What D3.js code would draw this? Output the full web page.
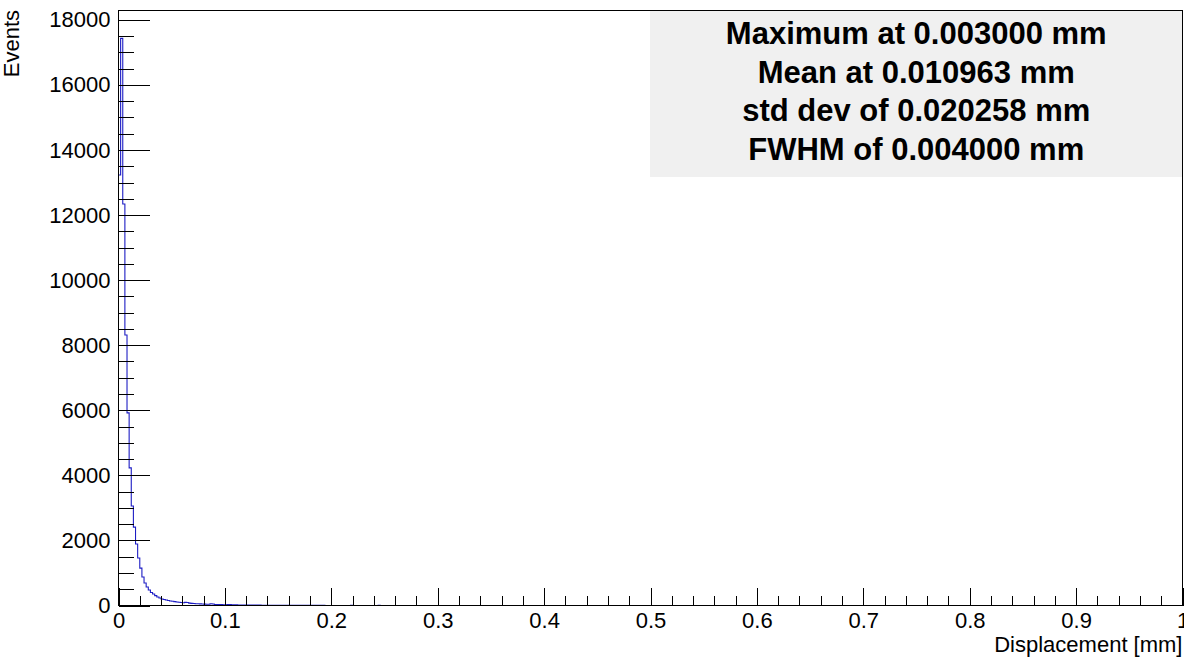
<!DOCTYPE html>
<html>
<head>
<meta charset="utf-8">
<script src="https://cdn.jsdelivr.net/npm/d3@7"></script>
<style>
  body { margin: 0; background: #fff; }
  svg { display: block; font-family: "Liberation Sans", Arial, sans-serif; }
</style>
</head>
<body>
<svg id="chart" width="1184" height="658"></svg>
<script>
// histogram: 500 bins of 0.002 mm on [0, 1], counts (rest are empty)
var binWidth = 0.002
var binCounts = [
  13230, 17430, 12340, 8315, 5920, 4230, 3060, 2410, 1890, 1460,
  1150, 875, 690, 570, 475, 400, 355, 305, 260, 230,
  200, 185, 170, 155, 140, 130, 118, 108, 100, 92,
  85, 96, 90, 72, 64, 60, 56, 52, 50, 46,
  43, 40, 38, 52, 48, 31, 30, 28, 26, 25,
  23, 30, 28, 20, 19, 18, 17, 16, 15, 15,
  14, 13, 13, 12, 12, 11, 11, 10, 10, 9,
  9, 9, 8, 8, 8, 7, 7, 7, 6, 6,
  6, 6, 5, 5, 5, 5, 4, 4, 4, 4,
  4, 3, 3, 3, 3, 3, 3, 2, 2, 2,
  2, 2, 2, 2, 2, 0, 2, 2, 0, 3,
  2, 0, 2, 2, 2, 0, 0, 2, 0, 2,
  0, 0, 3, 0, 0, 2, 0, 0, 0, 0,
  0, 2, 0, 0, 0, 0, 2, 0, 0, 0,
  0, 0, 0, 0, 0, 0, 0, 0, 0, 0,
  0, 0, 0, 0, 0, 0, 0, 0, 0, 0,
  0, 0, 0, 0, 0, 0, 0, 0, 0, 0,
  0, 0, 0, 0, 0, 0, 0, 0, 0, 0
]
var xMajorTicks = [0, 0.1, 0.2, 0.3, 0.4, 0.5, 0.6, 0.7, 0.8, 0.9, 1]
var yMajorTicks = [0, 2000, 4000, 6000, 8000, 10000, 12000, 14000, 16000, 18000]
var statsLines = [
  'Maximum at 0.003000 mm',
  'Mean at 0.010963 mm',
  'std dev of 0.020258 mm',
  'FWHM of 0.004000 mm'
]
var xTitle = 'Displacement [mm]'
var yTitle = 'Events'

var frame = {left: 118.5, right: 1182.5, top: 10, bottom: 605.5}
var svg = d3.select('#chart')

var x = d3.scaleLinear().domain([0, 1]).range([frame.left, frame.right])
var yMax = d3.max(binCounts) * 1.05
var y = d3.scaleLinear().domain([0, yMax]).range([frame.bottom, frame.top])

// stats box (drawn first, frame lines go on top)
svg.append('rect')
  .attr('x', 650).attr('y', frame.top)
  .attr('width', frame.right - 650).attr('height', 167)
  .attr('fill', '#f0f0f0')

svg.selectAll('.stat')
  .data(statsLines)
  .enter().append('text')
  .attr('class', 'stat')
  .attr('x', (650 + frame.right) / 2)
  .attr('y', function(d, i) { return 44 + i * 38.5 })
  .attr('text-anchor', 'middle')
  .attr('font-size', 31)
  .attr('font-weight', 'bold')
  .attr('fill', '#000')
  .text(function(d) { return d })

// histogram outline
var edges = binCounts.map(function(c, i) { return {x0: i * binWidth, n: c} })
edges.push({x0: binCounts.length * binWidth, n: 0})

svg.append('clipPath').attr('id', 'clip')
  .append('rect')
  .attr('x', frame.left).attr('y', frame.top)
  .attr('width', frame.right - frame.left).attr('height', frame.bottom - frame.top)

var line = d3.line()
  .x(function(d) { return x(d.x0) })
  .y(function(d) { return y(d.n) })
  .curve(d3.curveStepAfter)

svg.append('path')
  .datum(edges)
  .attr('clip-path', 'url(#clip)')
  .attr('d', line)
  .attr('fill', 'none')
  .attr('stroke', '#1c1cc4')
  .attr('stroke-width', 1.1)

// axes, ticks point inwards like ROOT
var yMinor = d3.range(0, yMax, 500)
var xMinor = d3.range(0, 101, 2).map(function(d) { return d / 100 })

svg.append('g')
  .attr('transform', 'translate(' + frame.left + ',0)')
  .call(d3.axisLeft(y).tickValues(yMinor).tickSize(-15).tickFormat(''))
  .call(function(g) { g.select('.domain').remove() })

svg.append('g')
  .attr('class', 'yaxis')
  .attr('transform', 'translate(' + frame.left + ',0)')
  .call(d3.axisLeft(y).tickValues(yMajorTicks).tickSize(-31).tickPadding(8).tickFormat(d3.format('d')))
  .call(function(g) { g.select('.domain').remove() })

svg.append('g')
  .attr('transform', 'translate(0,' + frame.bottom + ')')
  .call(d3.axisBottom(x).tickValues(xMinor).tickSize(-10).tickFormat(''))
  .call(function(g) { g.select('.domain').remove() })

svg.append('g')
  .attr('class', 'xaxis')
  .attr('transform', 'translate(0,' + frame.bottom + ')')
  .call(d3.axisBottom(x).tickValues(xMajorTicks).tickSize(-18).tickPadding(7).tickFormat(d3.format('~g')))
  .call(function(g) { g.select('.domain').remove() })

svg.selectAll('.tick line').attr('stroke', '#000').attr('shape-rendering', 'crispEdges')
svg.selectAll('.tick text').attr('font-size', 22).attr('fill', '#000')
  .attr('font-family', '"Liberation Sans", Arial, sans-serif')

// frame
svg.append('rect')
  .attr('x', frame.left).attr('y', frame.top)
  .attr('width', frame.right - frame.left).attr('height', frame.bottom - frame.top)
  .attr('fill', 'none')
  .attr('stroke', '#000')
  .attr('stroke-width', 1)
  .attr('shape-rendering', 'crispEdges')

// axis titles
svg.append('text')
  .attr('x', frame.right)
  .attr('y', 652)
  .attr('text-anchor', 'end')
  .attr('font-size', 22)
  .text(xTitle)

svg.append('text')
  .attr('transform', 'translate(19,' + frame.top + ') rotate(-90)')
  .attr('text-anchor', 'end')
  .attr('font-size', 22)
  .text(yTitle)
</script>
</body>
</html>
